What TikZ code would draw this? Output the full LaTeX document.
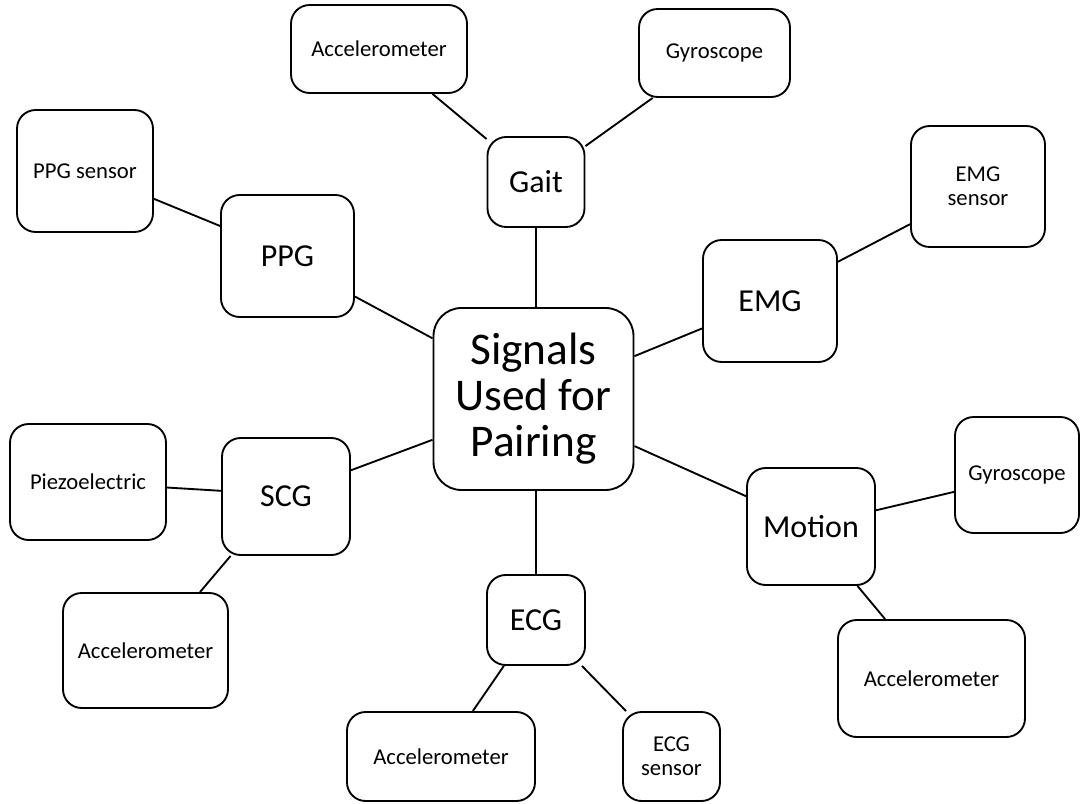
\documentclass[tikz,border=0pt]{standalone}
\usepackage{fontspec}
\setmainfont{Carlito}
\tikzset{
    rounded node/.style={rectangle, draw, line width=1.4pt, rounded corners=14pt, inner sep=0, align=center},
    main node/.style={rounded node, rounded corners=21pt, font=\fontsize{34}{34.5}\selectfont},
    signal node/.style={rounded node, font=\fontsize{24}{26}\selectfont},
    sensor node/.style={rounded node, font=\fontsize{17}{18}\selectfont},
    box size/.style 2 args={minimum width=#1*0.75pt, minimum height=#2*0.75pt}, % sizes in px
    link/.style={line width=1.4pt},
    }

\begin{document}
\begin{tikzpicture}
    [x=0.75pt, y=-0.75pt%, 1px of the sketch
    ]

\useasboundingbox (0,0) rectangle (1081,803);

\node[main node, box size={200}{182}] (c) at (533.5,399) {Signals\\Used for\\Pairing};

% signals
\node[signal node, box size={97}{90}] (gait) at (536,182) {Gait};
\node[signal node, box size={133}{122}] (ppg) at (287.5,256) {PPG};
\node[signal node, box size={134}{122}] (emg) at (770,301) {EMG};
\node[signal node, box size={128}{117}] (scg) at (286,496.5) {SCG};
\node[signal node, box size={98}{90}] (ecg) at (536,620) {ECG};
\node[signal node, box size={128}{117}] (motion) at (811,526.5) {Motion};

% sensors
\node[sensor node, box size={176}{88}] (gaitacc) at (379,49) {Accelerometer};
\node[sensor node, box size={151}{88}] (gaitgyro) at (714.5,53) {Gyroscope};
\node[sensor node, box size={136}{122}] (ppgsens) at (85,171) {PPG sensor};
\node[sensor node, box size={134}{121}] (emgsens) at (978,186.5) {EMG\\sensor};
\node[sensor node, box size={156}{116}] (piezo) at (88,482) {Piezoelectric};
\node[sensor node, box size={165}{115}] (scgacc) at (145.5,650.5) {Accelerometer};
\node[sensor node, box size={188}{89}] (ecgacc) at (441,756.5) {Accelerometer};
\node[sensor node, box size={97}{89}] (ecgsens) at (671.5,756.5) {ECG\\sensor};
\node[sensor node, box size={124}{116}] (motiongyro) at (1017,475) {Gyroscope};
\node[sensor node, box size={187}{117}] (motionacc) at (931.5,678.5) {Accelerometer};

\draw[link] (gait.south) -- (gait.south |- c.north);
\draw[link] (ecg.north) -- (ecg.north |- c.south);
\draw[link] (c.149) -- (ppg.-31);
\draw[link] (c.23) -- (emg.202);
\draw[link] (c.202) -- (scg.22);
\draw[link] (c.-25) -- (motion.155);

\draw[link] (gait.139) -- (gaitacc.-40);
\draw[link] (gait.36) -- (gaitgyro.216);
\draw[link] (ppg.156) -- (ppgsens.-22);
\draw[link] (emg.30) -- (emgsens.209);
\draw[link] (scg.175) -- (piezo.-4);
\draw[link] (scg.227) -- (scgacc.47);
\draw[link] (ecg.235) -- (ecgacc.55);
\draw[link] (ecg.-45) -- (ecgsens.135);
\draw[link] (motion.14) -- (motiongyro.195);
\draw[link] (motion.-52) -- (motionacc.128);
\end{tikzpicture}
\end{document}
